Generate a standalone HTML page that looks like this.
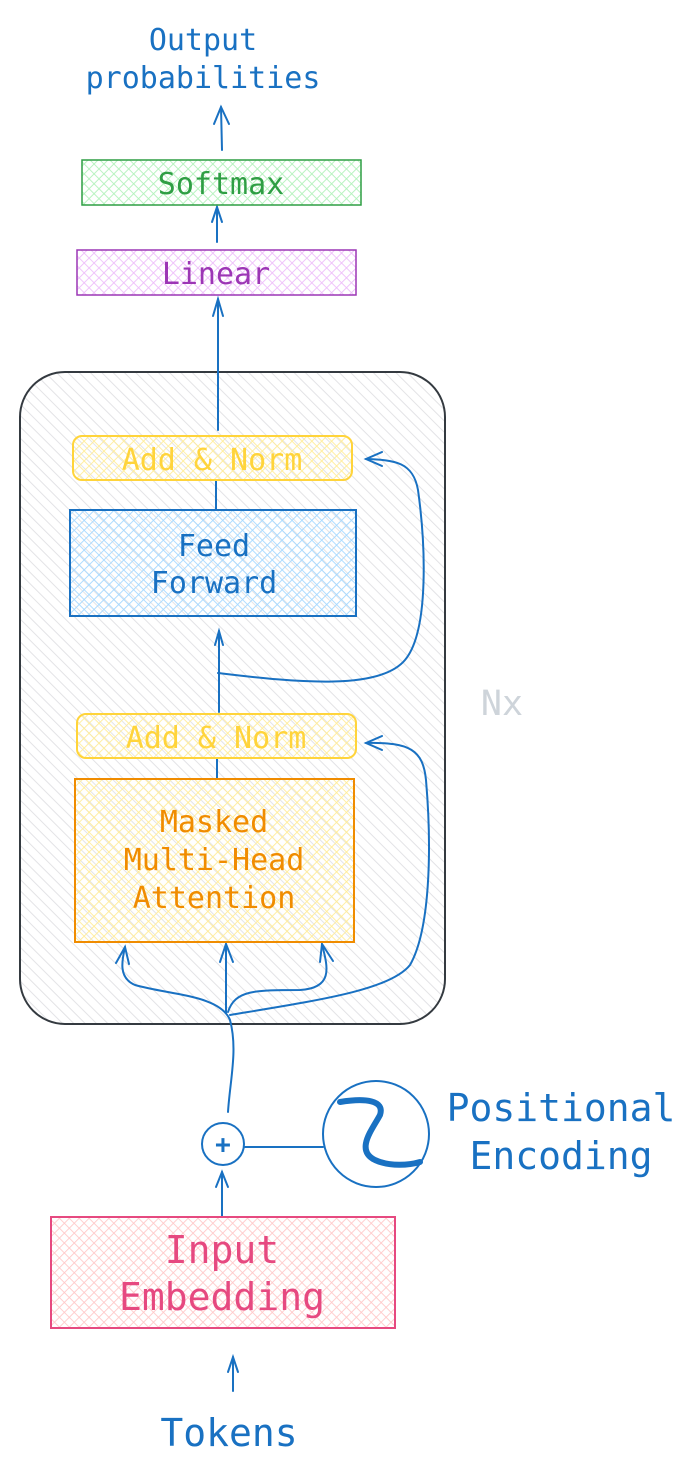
<!DOCTYPE html>
<html><head><meta charset="utf-8"><style>
html,body{margin:0;padding:0;background:#fff;width:698px;height:1477px;overflow:hidden}
svg text{font-family:"DejaVu Sans Mono","Liberation Mono",monospace}
</style></head><body>
<svg width="698" height="1477" viewBox="0 0 698 1477" xmlns="http://www.w3.org/2000/svg">
<defs>
<pattern id="gray" width="8" height="8" patternUnits="userSpaceOnUse" patternTransform="rotate(-45)">
<line x1="0" y1="0" x2="0" y2="8" stroke="#e3e3e6" stroke-width="2"/></pattern>
<pattern id="pGreen" width="7" height="7" patternUnits="userSpaceOnUse" patternTransform="rotate(45)">
<path d="M0 0H7M0 0V7" stroke="#b2f2bb" stroke-width="1.8"/></pattern>
<pattern id="pPurple" width="7" height="7" patternUnits="userSpaceOnUse" patternTransform="rotate(45)">
<path d="M0 0H7M0 0V7" stroke="#eebefa" stroke-width="1.8"/></pattern>
<pattern id="pYellow" width="7" height="7" patternUnits="userSpaceOnUse" patternTransform="rotate(45)">
<path d="M0 0H7M0 0V7" stroke="#ffec99" stroke-width="1.8"/></pattern>
<pattern id="pBlue" width="7" height="7" patternUnits="userSpaceOnUse" patternTransform="rotate(45)">
<path d="M0 0H7M0 0V7" stroke="#a5d8ff" stroke-width="1.8"/></pattern>
<pattern id="pPink" width="7" height="7" patternUnits="userSpaceOnUse" patternTransform="rotate(45)">
<path d="M0 0H7M0 0V7" stroke="#ffc9c9" stroke-width="1.8"/></pattern>
</defs>

<rect x="20" y="372" width="425" height="652" rx="45" fill="url(#gray)" stroke="#343a40" stroke-width="2"/>

<g fill="none" stroke="#1971c2" stroke-width="2" stroke-linecap="round">
<path d="M222 150 L221 107"/><path d="M214 124 L221 107 L229 124"/>
<path d="M217 242 L217 207"/><path d="M212 222 L217 207 L222 222"/>
<path d="M218 430 L218 299"/><path d="M213 316 L218 299 L223 316"/>
<path d="M216 481 L216 510"/>
<path d="M219 712 L219 631"/><path d="M215 645 L219 631 L223 645"/>
<path d="M218 673 C300 683 380 690 405 660 C430 630 425 540 418 490 C413 462 395 460 366 459"/>
<path d="M382 452 L366 459 L382 466"/>
<path d="M217 758 L217 779"/>
<path d="M230 1015 C320 1000 390 990 410 965 C430 930 432 850 426 780 C423 750 410 742 366 743"/>
<path d="M382 736 L366 743 L382 750"/>
<path d="M228 1112 C230 1080 238 1050 230 1020 C220 995 170 995 135 985 C118 978 122 960 125 947"/>
<path d="M116 963 L125 947 L129 964"/>
<path d="M226 1013 L226 944"/><path d="M220 962 L226 944 L233 962"/>
<path d="M228 1012 C235 990 255 990 300 990 C335 988 327 965 322 944"/>
<path d="M320 962 L322 944 L333 961"/>
<circle cx="223" cy="1144" r="21"/>
<path d="M245 1147 L323 1147"/>
<circle cx="376" cy="1134" r="53"/>
<path d="M222 1216 L222 1172"/><path d="M216 1187 L222 1172 L228 1187"/>
<path d="M233 1391 L233 1357"/><path d="M228 1372 L233 1357 L238 1372"/>
</g>
<path d="M340 1102 C365 1098 385 1100 380 1115 C372 1130 355 1150 375 1160 C390 1167 410 1165 420 1162" fill="none" stroke="#1971c2" stroke-width="6" stroke-linecap="round"/>
<text x="223" y="1153" font-size="26" font-weight="bold" fill="#1971c2" text-anchor="middle">+</text>

<rect x="82" y="160" width="279" height="45" fill="url(#pGreen)" stroke="#2f9e44" stroke-width="1.5"/>
<text x="221" y="194" font-size="30" fill="#2f9e44" text-anchor="middle">Softmax</text>
<rect x="77" y="250" width="279" height="45" fill="url(#pPurple)" stroke="#9c36b5" stroke-width="1.5"/>
<text x="216" y="284" font-size="30" fill="#9c36b5" text-anchor="middle">Linear</text>

<rect x="73" y="436" width="279" height="44" rx="9" fill="url(#pYellow)" stroke="#ffd43b" stroke-width="2"/>
<text x="212" y="470" font-size="30" fill="#ffd43b" text-anchor="middle">Add &amp; Norm</text>
<rect x="70" y="510" width="286" height="106" fill="url(#pBlue)" stroke="#1971c2" stroke-width="2"/>
<text x="214" y="556" font-size="30" fill="#1971c2" text-anchor="middle">Feed</text>
<text x="214" y="593" font-size="30" fill="#1971c2" text-anchor="middle">Forward</text>

<rect x="77" y="714" width="279" height="44" rx="9" fill="url(#pYellow)" stroke="#ffd43b" stroke-width="2"/>
<text x="216" y="748" font-size="30" fill="#ffd43b" text-anchor="middle">Add &amp; Norm</text>
<rect x="75" y="779" width="279" height="163" fill="url(#pYellow)" stroke="#f08c00" stroke-width="2"/>
<text x="214" y="832" font-size="30" fill="#f08c00" text-anchor="middle">Masked</text>
<text x="214" y="870" font-size="30" fill="#f08c00" text-anchor="middle">Multi-Head</text>
<text x="214" y="908" font-size="30" fill="#f08c00" text-anchor="middle">Attention</text>

<rect x="51" y="1217" width="344" height="111" fill="url(#pPink)" stroke="#e64980" stroke-width="2"/>
<text x="222" y="1263" font-size="38" fill="#e64980" text-anchor="middle">Input</text>
<text x="222" y="1310" font-size="38" fill="#e64980" text-anchor="middle">Embedding</text>

<text x="203" y="50" font-size="30" fill="#1971c2" text-anchor="middle">Output</text>
<text x="203" y="88" font-size="30" fill="#1971c2" text-anchor="middle">probabilities</text>
<text x="502" y="715" font-size="35" fill="#ced4da" text-anchor="middle">Nx</text>
<text x="561" y="1121" font-size="38" fill="#1971c2" text-anchor="middle">Positional</text>
<text x="561" y="1169" font-size="38" fill="#1971c2" text-anchor="middle">Encoding</text>
<text x="229" y="1446" font-size="38" fill="#1971c2" text-anchor="middle">Tokens</text>
</svg>
</body></html>
